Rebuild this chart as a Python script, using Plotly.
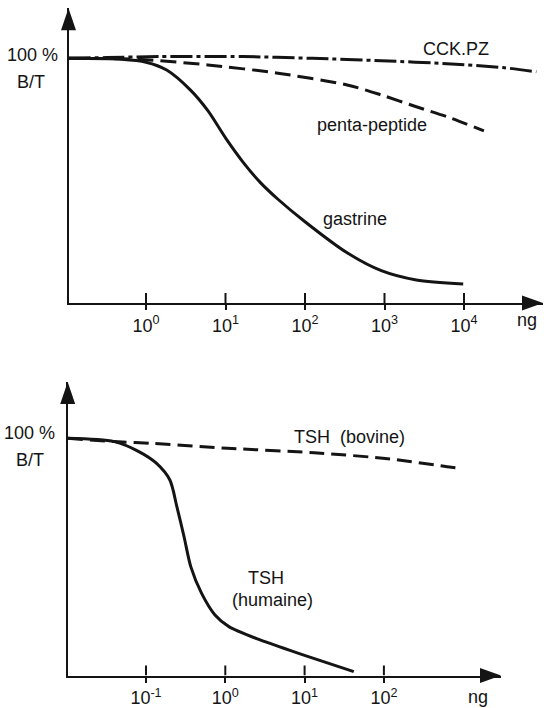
import plotly.graph_objects as go

W, H = 544, 708
FONT = "Liberation Sans, Arial, sans-serif"
INK = "#141414"

# ---------------- data (top panel) ----------------
top_ticks = [1, 10, 100, 1000, 10000]
top_ticktext = ["10<sup>0</sup>", "10<sup>1</sup>", "10<sup>2</sup>", "10<sup>3</sup>", "10<sup>4</sup>"]

cck_ng = [0.106, 0.316, 1.48, 16.6, 123, 912, 6920, 30900, 81300]
cck_bt = [100, 100.3, 100.7, 100.7, 100, 99, 97.7, 96.2, 94.5]

penta_ng = [0.106, 0.5, 1.1, 6.0, 45.7, 339, 912, 2510, 6920, 17800]
penta_bt = [100, 99.8, 99.3, 97.3, 93.9, 89.1, 85, 80.2, 75.5, 70.3]

gast_ng = [0.106, 0.49, 1.0, 1.82, 3.63, 6.03, 10, 16.6, 27.5, 45.7, 100, 339, 912, 2510, 9770]
gast_bt = [100, 99.6, 98.4, 95.2, 87, 78.5, 67.5, 57.6, 49.2, 42.4, 33.2, 20.5, 13.2, 9.4, 7.8]

# ---------------- data (bottom panel) ----------------
bot_ticks = [0.1, 1, 10, 100]
bot_ticktext = ["10<sup>-1</sup>", "10<sup>0</sup>", "10<sup>1</sup>", "10<sup>2</sup>"]

bov_ng = [0.0103, 0.0398, 0.115, 1.06, 13.2, 120, 708, 955]
bov_bt = [100, 98.6, 97.9, 95.8, 93.9, 91.3, 87.8, 87.4]

hum_ng = [0.0103, 0.0398, 0.0813, 0.135, 0.2, 0.245, 0.302, 0.367, 0.501, 0.741, 1.11, 2.75, 9.77, 41.7]
hum_bt = [100, 98.6, 94.4, 89.5, 82.4, 71.2, 58.5, 45.9, 34.7, 25.5, 20.6, 15.0, 8.6, 1.6]


def px(x, y):
    return x / W, 1 - y / H


fig = go.Figure()

def line(xs, ys, xa, ya, dash, width=3):
    fig.add_trace(go.Scatter(x=xs, y=ys, xaxis=xa, yaxis=ya, mode="lines",
                             line=dict(color=INK, width=width, dash=dash, shape="spline", smoothing=0.8),
                             showlegend=False, hoverinfo="skip"))

line(cck_ng, cck_bt, "x", "y", "22px,4px,4px,4px")
line(penta_ng, penta_bt, "x", "y", "16px,7px")
line(gast_ng, gast_bt, "x", "y", "solid")
line(bov_ng, bov_bt, "x2", "y2", "15px,7px")
line(hum_ng, hum_bt, "x2", "y2", "solid")

# axes geometry (pixels)
top_left, top_right, top_axis_y, top_top, top_100 = 68.5, 543, 303, 8.3, 58.3
bot_left, bot_right, bot_axis_y, bot_top, bot_100 = 67.7, 501, 675.5, 382, 438.3
top_x0, top_dec = 146, 79.5      # pixel of 10^0 tick, pixels per decade
bot_x0, bot_dec = 225.3, 79.3

xr_top = [(top_left - top_x0) / top_dec, (top_right - top_x0) / top_dec]
xr_bot = [(bot_left - bot_x0) / bot_dec, (bot_right - bot_x0) / bot_dec]
yr_top = [0, (top_axis_y - top_top) / ((top_axis_y - top_100) / 100)]
yr_bot = [0, (bot_axis_y - bot_top) / ((bot_axis_y - bot_100) / 100)]

xcommon = dict(type="log", showgrid=False, zeroline=False, showline=True, linewidth=2,
               linecolor=INK, ticks="outside", ticklen=5, tickwidth=2, tickcolor=INK,
               tickfont=dict(family=FONT, size=18, color=INK))
ycommon = dict(showgrid=False, zeroline=False, showline=True, linewidth=2, linecolor=INK,
               showticklabels=False, ticks="")

fig.update_layout(
    width=W, height=H, autosize=False,
    margin=dict(l=0, r=0, t=0, b=0),
    paper_bgcolor="white", plot_bgcolor="white",
    xaxis=dict(domain=[top_left / W, top_right / W], range=xr_top, anchor="y",
               tickvals=top_ticks, ticktext=top_ticktext, **xcommon),
    yaxis=dict(domain=[1 - top_axis_y / H, 1 - top_top / H], range=yr_top, anchor="x", **ycommon),
    xaxis2=dict(domain=[bot_left / W, bot_right / W], range=xr_bot, anchor="y2",
                tickvals=bot_ticks, ticktext=bot_ticktext, **xcommon),
    yaxis2=dict(domain=[1 - bot_axis_y / H, 1 - bot_top / H], range=yr_bot, anchor="x2", **ycommon),
)

shapes = []
# arrow heads
for xa, ya in (("x", "y"), ("x2", "y2")):
    shapes.append(dict(type="path", xref=f"{xa} domain", yref=f"{ya} domain",
                       xsizemode="pixel", ysizemode="pixel", xanchor=0, yanchor=1,
                       path="M -7.5 -22 L 7.5 -22 L 0 0 Z", fillcolor=INK, line=dict(width=0)))
    shapes.append(dict(type="path", xref=f"{xa} domain", yref=f"{ya} domain",
                       xsizemode="pixel", ysizemode="pixel", xanchor=1, yanchor=0,
                       path="M 0 0 L -21 7.5 L -21 -7.5 Z", fillcolor=INK, line=dict(width=0)))
# upper part of the crossing tick marks
for xa, ya, tv in (("x", "y", top_ticks), ("x2", "y2", bot_ticks)):
    for t in tv:
        shapes.append(dict(type="line", xref=xa, yref=ya, x0=t, x1=t,
                           ysizemode="pixel", yanchor=0, y0=0, y1=10,
                           line=dict(color=INK, width=2)))
fig.update_layout(shapes=shapes)

def label(text, x, y, size=18):
    xp, yp = px(x, y)
    fig.add_annotation(text=text, x=xp, y=yp, xref="paper", yref="paper",
                       xanchor="center", yanchor="middle", showarrow=False,
                       font=dict(family=FONT, size=size, color=INK))

label("100 %", 32.5, 55)
label("B/T", 31, 81.7)
label("CCK.PZ", 456, 49)
label("penta-peptide", 371.7, 125)
label("gastrine", 355, 218.5)
label("ng", 526.7, 320)

label("100 %", 29.5, 433.3)
label("B/T", 30.3, 460)
label("TSH  (bovine)", 349, 436.7)
label("TSH", 265.8, 578.3)
label("(humaine)", 272.5, 600)
label("ng", 478, 697)

fig.write_html("out.html")
